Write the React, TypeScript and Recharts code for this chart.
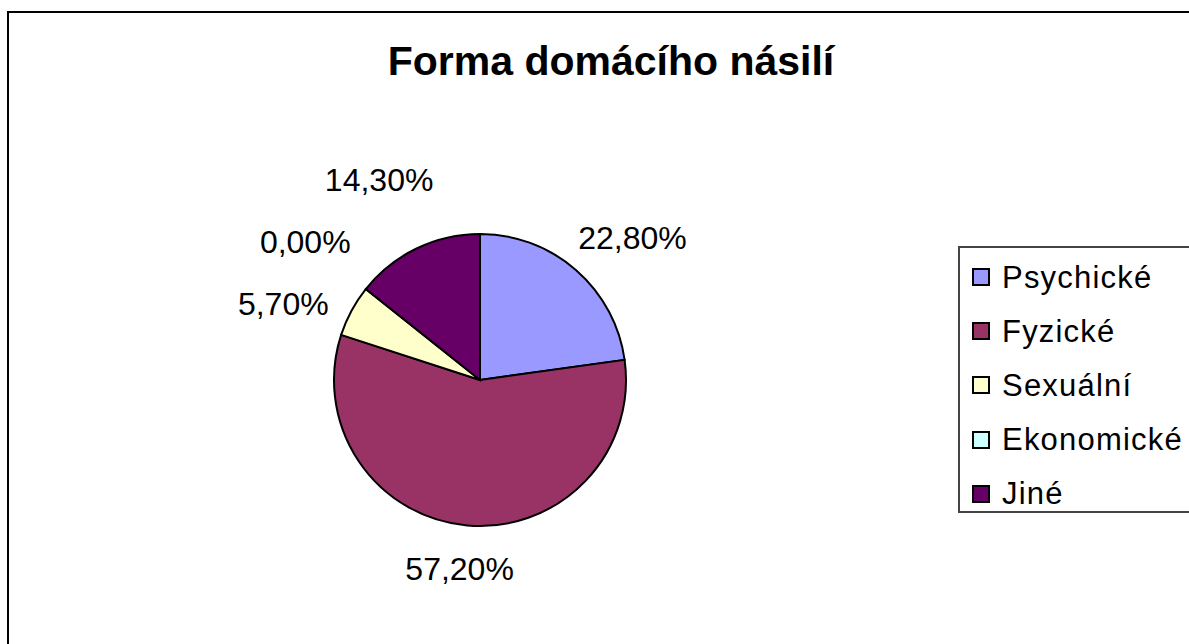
import React from 'react';
import { PieChart, Pie, Cell, Legend } from 'recharts';

const categories = ['Psychické', 'Fyzické', 'Sexuální', 'Ekonomické', 'Jiné'];
const values = [22.8, 57.2, 5.7, 0.0, 14.3];
const colors = ['#9999FF', '#993366', '#FFFFCC', '#CCFFFF', '#660066'];
const title = 'Forma domácího násilí';

const FONT = '"Liberation Sans", Arial, sans-serif';
const W = 1189;
const H = 644;
const PIE_CX = 480;
const PIE_CY = 380;
const PIE_R = 146;
const LABEL_SIZE = 32;
const LABEL_GAP = 32;
const LABEL_CAP = 23;
const LABEL_MIN_DY = 62;
const RADIAN = Math.PI / 180;

const data = categories.map((name, i) => ({ name, value: values[i] }));

const fmt = (v: number) => v.toFixed(2).replace('.', ',') + '%';
const charW = (c: string) => (/[0-9]/.test(c) ? 0.556 : c === ',' ? 0.278 : c === '%' ? 0.889 : 0.556);
const textW = (s: string) => s.split('').reduce((a, c) => a + charW(c), 0) * LABEL_SIZE;

function naturalPos(midAngle: number, cx: number, cy: number, r: number, text: string) {
  const dx = Math.cos(-midAngle * RADIAN);
  const dy = Math.sin(-midAngle * RADIAN);
  const px = cx + (r + LABEL_GAP) * dx;
  const py = cy + (r + LABEL_GAP) * dy;
  const w = textW(text);
  return { x: px + (dx * w) / 2, y: py + (dy * LABEL_CAP) / 2, side: dx < 0 ? -1 : 1 };
}

// resolve overlapping labels (vertical shifts), derived from the data
const total = values.reduce((a, b) => a + b, 0);
const shifts: number[] = (() => {
  let cum = 0;
  const pos = values.map((v, i) => {
    const mid = 90 - (360 * (cum + v / 2)) / total;
    cum += v;
    return { i, ...naturalPos(mid, PIE_CX, PIE_CY, PIE_R, fmt(v)) };
  });
  const out = values.map(() => 0);
  [-1, 1].forEach((side) => {
    const list = pos.filter((p) => p.side === side).sort((a, b) => b.y - a.y);
    const clusters: { i: number; y: number; ny: number }[][] = [];
    let cur: { i: number; y: number; ny: number }[] = [];
    let prevY: number | null = null;
    list.forEach((p) => {
      let y = p.y;
      if (prevY !== null && prevY - y < LABEL_MIN_DY) {
        y = prevY - LABEL_MIN_DY;
      } else if (cur.length) {
        clusters.push(cur);
        cur = [];
      }
      cur.push({ i: p.i, y, ny: p.y });
      prevY = y;
    });
    if (cur.length) clusters.push(cur);
    clusters.forEach((cl) => {
      const meanN = cl.reduce((a, c) => a + c.ny, 0) / cl.length;
      const meanA = cl.reduce((a, c) => a + c.y, 0) / cl.length;
      const s = (meanN - meanA) / 2;
      cl.forEach((c) => {
        out[c.i] = c.y + s - c.ny;
      });
    });
  });
  return out;
})();

const renderLabel = (props: any) => {
  const { cx, cy, midAngle, outerRadius, index, value } = props;
  const text = fmt(Number(value));
  const p = naturalPos(midAngle, cx, cy, outerRadius, text);
  const y = p.y + (shifts[index] || 0);
  return (
    <text
      key={`lbl-${index}`}
      x={p.x}
      y={y + LABEL_CAP / 2}
      textAnchor="middle"
      fill="#000"
      style={{ fontFamily: FONT, fontSize: LABEL_SIZE }}
    >
      {text}
    </text>
  );
};

const renderLegend = (props: any) => {
  const raw: any[] = props && props.payload && props.payload.length
    ? props.payload
    : categories.map((c, i) => ({ value: c, color: colors[i] }));
  const payload = [...raw].sort((a, b) => categories.indexOf(a.value) - categories.indexOf(b.value));
  return (
    <div
      style={{
        boxSizing: 'border-box',
        width: 260,
        height: 267,
        border: '2px solid #444',
        background: '#fff',
        paddingTop: 2,
        fontFamily: FONT,
      }}
    >
      {payload.map((item: any, i: number) => (
        <div key={i} style={{ height: 54.2, display: 'flex', alignItems: 'center' }}>
          <div
            style={{
              boxSizing: 'border-box',
              width: 18,
              height: 18,
              marginLeft: 12,
              marginRight: 12,
              border: '2px solid #000',
              background: colors[categories.indexOf(item.value)] || item.color,
            }}
          />
          <span style={{ fontSize: 31, letterSpacing: 1.2, color: '#000', lineHeight: 1 }}>{item.value}</span>
        </div>
      ))}
    </div>
  );
};

export default function App() {
  return (
    <div style={{ position: 'fixed', left: 0, top: 0, width: W, height: H, overflow: 'hidden', background: '#fff' }}>
      <div
        style={{
          position: 'absolute',
          left: 7,
          top: 11,
          width: 1300,
          height: 800,
          border: '2px solid #000',
          boxSizing: 'border-box',
        }}
      />
      <div
        style={{
          position: 'absolute',
          left: 0,
          top: 41,
          width: 1222,
          textAlign: 'center',
          fontFamily: FONT,
          fontWeight: 'bold',
          fontSize: 41,
          lineHeight: '41px',
          color: '#000',
          whiteSpace: 'nowrap',
        }}
      >
        {title}
      </div>
      <div style={{ position: 'absolute', left: 0, top: 0 }}>
        <PieChart width={W} height={H} margin={{ top: 0, right: 0, bottom: 0, left: 0 }}>
          <Pie
            data={data}
            dataKey="value"
            nameKey="name"
            cx={PIE_CX}
            cy={PIE_CY}
            outerRadius={PIE_R}
            startAngle={90}
            endAngle={-270}
            stroke="#000"
            strokeWidth={2}
            label={renderLabel}
            labelLine={false}
            isAnimationActive={false}
          >
            {data.map((d, i) => (
              <Cell key={d.name} fill={colors[i]} />
            ))}
          </Pie>
          <Legend
            layout="vertical"
            align="right"
            verticalAlign="top"
            content={renderLegend}
            wrapperStyle={{ left: 958, top: 246, width: 260, height: 267, right: 'auto', bottom: 'auto' }}
          />
        </PieChart>
      </div>
    </div>
  );
}
